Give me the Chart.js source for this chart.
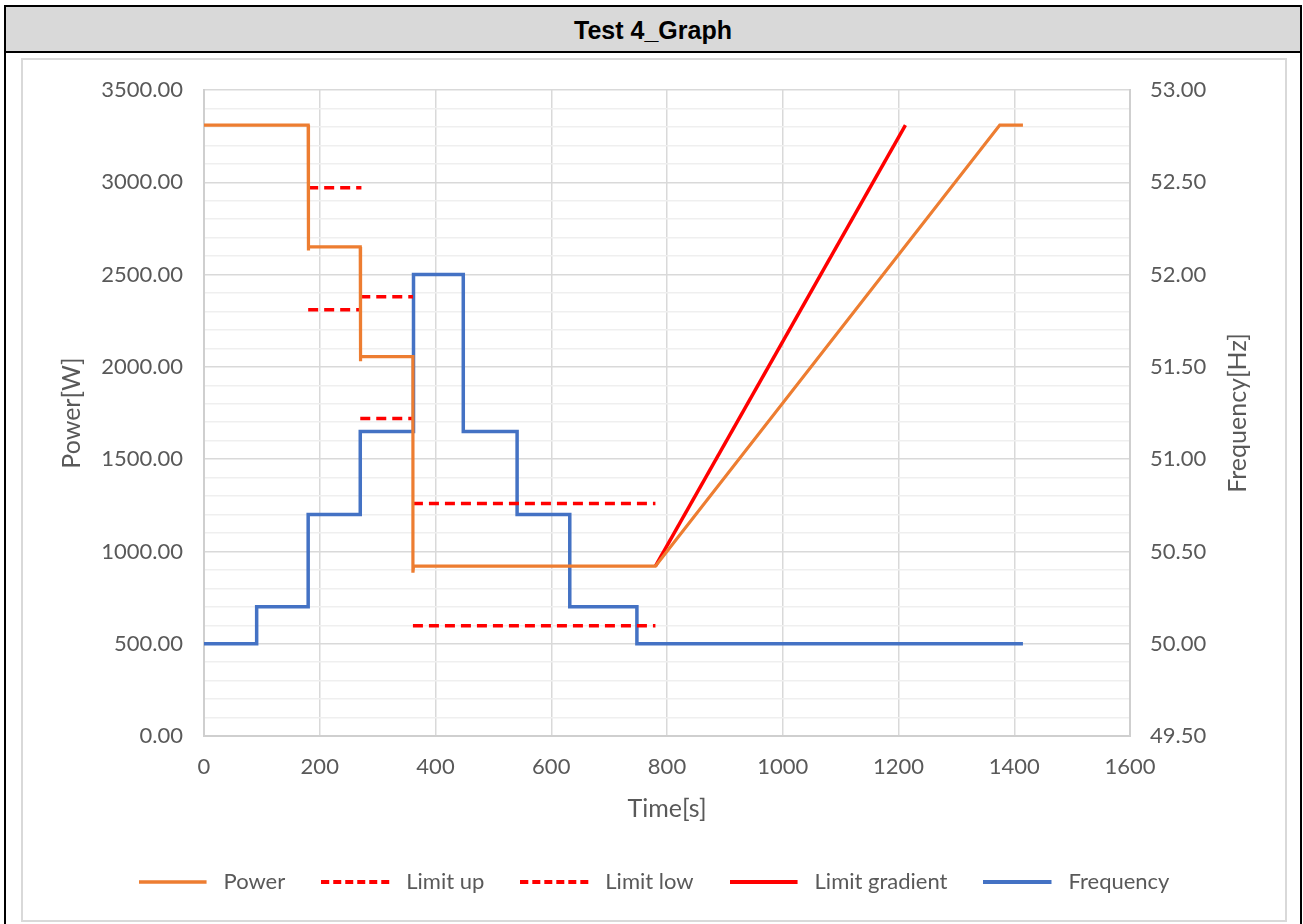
<!DOCTYPE html>
<html>
<head>
<meta charset="utf-8">
<script src="https://cdn.jsdelivr.net/npm/chart.js@4.4.1/dist/chart.umd.min.js"></script>
<style>
  body { margin: 0; background: #fff; width: 1303px; height: 924px; position: relative; overflow: hidden; }
  #leftBorder { position: absolute; left: 4px; top: 5px; width: 2px; height: 919px; background: #000; }
  #rightBorder { position: absolute; left: 1300px; top: 5px; width: 2px; height: 919px; background: #000; }
  #header { position: absolute; left: 4px; top: 5px; width: 1298px; height: 44px; background: #d9d9d9;
            border-top: 2px solid #000; border-bottom: 2px solid #000;
            font: bold 25px "Liberation Sans", Arial, sans-serif; color: #000; text-align: center; line-height: 46px; }
  #frame { position: absolute; left: 21px; top: 58px; width: 1262px; height: 860px; border: 2px solid #d9d9d9; }
  #box { position: absolute; left: 23px; top: 60px; width: 1262px; height: 860px; }
</style>
</head>
<body>
<div id="header">Test 4_Graph</div>
<div id="leftBorder"></div>
<div id="rightBorder"></div>
<div id="frame"></div>
<div id="box"><canvas id="testChart"></canvas></div>
<script>
// dati: tempo [s], potenza [W], frequenza [Hz]
const powerT = [0, 180, 180, 181, 270, 270, 271, 361, 361, 362, 780, 1375, 1415];
const powerW = [3310, 3310, 2630, 2650, 2650, 2030, 2055, 2055, 885, 920, 920, 3310, 3310];

// limiti a gradini (null = interruzione)
const limitUpT = [180, 272, 272, 270, 361, 361, 361, 780];
const limitUpW = [2970, 2970, null, 2380, 2380, null, 1260, 1260];
const limitLowT = [180, 272, 272, 270, 361, 361, 361, 780];
const limitLowW = [2310, 2310, null, 1720, 1720, null, 597, 597];

const gradientT = [780, 1212];
const gradientW = [920, 3310];

const freqT = [0, 91, 91, 180, 180, 270, 270, 362, 362, 448, 448, 541, 541, 632, 632, 748, 748, 1415];
const freqHz = [50, 50, 50.2, 50.2, 50.7, 50.7, 51.15, 51.15, 52, 52, 51.15, 51.15, 50.7, 50.7, 50.2, 50.2, 50, 50];

const xTicks = [0, 200, 400, 600, 800, 1000, 1200, 1400, 1600];

const toPoints = (xs, ys) => xs.map((x, i) => ({ x: x, y: ys[i] }));

const grey = '#595959';
const tickFont = { family: 'Lato', size: 22 };
const titleFont = { family: 'Lato', size: 25 };

// simbolo della legenda: piccolo canvas con la linea (anche tratteggiata)
function legendLine(color, width, dash) {
  const c = document.createElement('canvas');
  c.width = 74; c.height = 8;
  const g = c.getContext('2d');
  g.strokeStyle = color;
  g.lineWidth = width;
  g.setLineDash(dash || []);
  g.beginPath();
  g.moveTo(0, 4);
  g.lineTo(68, 4);
  g.stroke();
  return c;
}

// titolo asse destro ruotato come in Excel (dal basso verso l'alto)
const rightTitle = {
  id: 'rightTitle',
  afterDraw(chart) {
    const c = chart.ctx;
    const a = chart.chartArea;
    c.save();
    c.translate(1215, (a.top + a.bottom) / 2);
    c.rotate(-Math.PI / 2);
    c.fillStyle = grey;
    c.font = '25px Lato';
    c.textAlign = 'center';
    c.textBaseline = 'middle';
    c.fillText('Frequency[Hz]', 0, 0);
    c.restore();
  }
};

// larghezza fissa degli assi verticali, senza padding extra sopra/sotto
const fixVertical = w => s => { s.width = w; s.paddingTop = 0; s.paddingBottom = 0; };

const ctx = document.getElementById('testChart').getContext('2d');

new Chart(ctx, {
  type: 'line',
  data: {
    datasets: [{
      label: 'Power',
      data: toPoints(powerT, powerW),
      borderColor: '#ED7D31',
      borderWidth: 3.2,
      pointStyle: legendLine('#ED7D31', 3.5),
      yAxisID: 'y'
    }, {
      label: 'Limit up',
      data: toPoints(limitUpT, limitUpW),
      borderColor: '#FF0000',
      borderWidth: 3.5,
      borderDash: [10, 6],
      pointStyle: legendLine('#FF0000', 4, [8, 4]),
      yAxisID: 'y'
    }, {
      label: 'Limit low',
      data: toPoints(limitLowT, limitLowW),
      borderColor: '#FF0000',
      borderWidth: 3.5,
      borderDash: [10, 6],
      pointStyle: legendLine('#FF0000', 4, [8, 4]),
      yAxisID: 'y'
    }, {
      label: 'Limit gradient',
      data: toPoints(gradientT, gradientW),
      borderColor: '#FF0000',
      borderWidth: 3.5,
      pointStyle: legendLine('#FF0000', 4),
      yAxisID: 'y'
    }, {
      label: 'Frequency',
      data: toPoints(freqT, freqHz),
      borderColor: '#4472C4',
      borderWidth: 3.5,
      pointStyle: legendLine('#4472C4', 4),
      yAxisID: 'y1'
    }]
  },
  options: {
    responsive: true,
    maintainAspectRatio: false,
    animation: false,
    elements: {
      point: { radius: 0, hoverRadius: 0 },
      line: { tension: 0, borderCapStyle: 'butt', fill: false }
    },
    layout: { padding: { top: 30, left: 0, right: 0, bottom: 17 } },
    scales: {
      x: {
        type: 'linear',
        min: 0, max: 1600,
        afterBuildTicks: s => { s.ticks = xTicks.map(v => ({ value: v })); },
        afterFit: s => { s.height = 99; },
        ticks: { color: grey, font: tickFont, padding: 18, callback: v => String(v) },
        grid: { color: '#d9d9d9', lineWidth: 1.5, drawTicks: false },
        border: { color: '#cfcfcf', width: 2 },
        title: { display: true, text: 'Time[s]', color: grey, font: titleFont, padding: { top: 0, bottom: 11 } }
      },
      y: {
        position: 'left',
        min: 0, max: 3500,
        afterFit: fixVertical(181),
        ticks: {
          stepSize: 100, autoSkip: false, color: grey, font: tickFont, padding: 21,
          callback: v => (v % 500 === 0 ? v.toFixed(2) : '')
        },
        grid: {
          drawTicks: false, lineWidth: 1.5,
          color: c => (c.tick && c.tick.value % 500 === 0 ? '#d9d9d9' : '#efefef')
        },
        border: { color: '#cfcfcf', width: 2 },
        title: { display: true, text: 'Power[W]', color: grey, font: titleFont, padding: { top: 34, bottom: 0 } }
      },
      y1: {
        position: 'right',
        min: 49.5, max: 53,
        afterFit: fixVertical(155),
        ticks: { stepSize: 0.5, color: grey, font: tickFont, padding: 20, callback: v => v.toFixed(2) },
        grid: { drawOnChartArea: false, drawTicks: false },
        border: { color: '#cfcfcf', width: 2 }
      }
    },
    plugins: {
      legend: {
        position: 'bottom',
        labels: {
          usePointStyle: true,
          pointStyleWidth: 74,
          boxHeight: 10,
          color: grey,
          font: tickFont,
          padding: 36
        }
      },
      tooltip: { enabled: false }
    }
  },
  plugins: [rightTitle]
});
</script>
</body>
</html>
